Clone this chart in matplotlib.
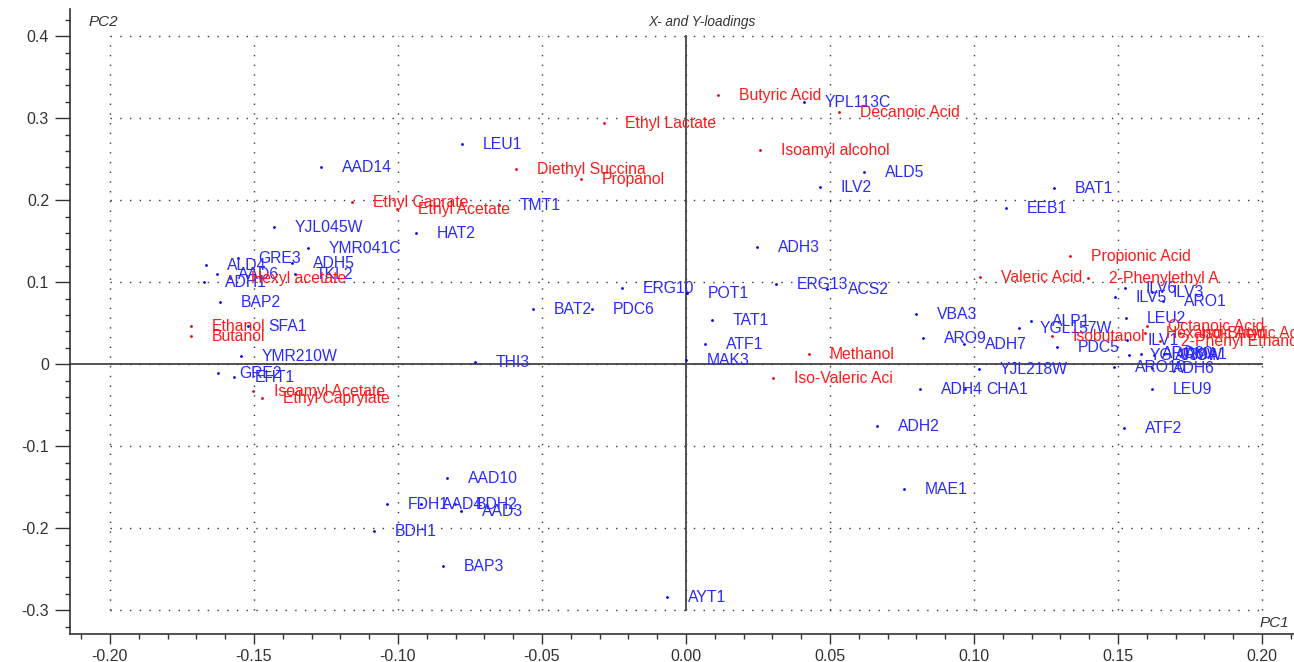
import matplotlib.pyplot as plt
import numpy as np

plt.rcParams['font.family'] = ['Liberation Sans', 'DejaVu Sans']

# X-loadings (genes, blue)
genes = ['LEU1', 'AAD14', 'YPL113C', 'ALD5', 'ILV2', 'BAT1', 'EEB1', 'TMT1', 'HAT2',
         'YJL045W', 'YMR041C', 'ADH3', 'ERG10', 'PDC6', 'BAT2', 'POT1', 'ERG13', 'ACS2',
         'TAT1', 'ATF1', 'MAK3', 'THI3', 'VBA3', 'ARO9', 'ADH7', 'YGL157W', 'ALP1',
         'YJL218W', 'ADH4', 'CHA1', 'PDC5', 'ILV6', 'ILV5', 'ILV3', 'ARO1', 'LEU2',
         'LEU9', 'ARO10', 'ADH6', 'YGL039W', 'ILV1', 'ARO80', 'ARO4', 'AMA1', 'ATF2',
         'ADH2', 'MAE1', 'AYT1', 'AAD10', 'FDH1', 'AAD4', 'BDH2', 'AAD3', 'BDH1', 'BAP3',
         'GRE3', 'ALD4', 'ADH5', 'TKL2', 'AAD6', 'ADH1', 'BAP2', 'SFA1', 'YMR210W',
         'GRE2', 'EHT1']
gene_pc1 = [-0.0778, -0.1267, 0.0410, 0.0618, 0.0465, 0.1278, 0.1111, -0.0649, -0.0938,
            -0.1431, -0.1313, 0.0247, -0.0222, -0.0326, -0.0531, 0.0003, 0.0313, 0.0490,
            0.0090, 0.0066, 0.0000, -0.0733, 0.0799, 0.0823, 0.0965, 0.1156, 0.1198,
            0.1017, 0.0813, 0.0969, 0.1288, 0.1524, 0.1490, 0.1618, 0.1656, 0.1528,
            0.1618, 0.1486, 0.1618, 0.1538, 0.1531, 0.1580, 0.1625, 0.1660, 0.1521,
            0.0663, 0.0757, -0.0066, -0.0830, -0.1038, -0.0920, -0.0802, -0.0781, -0.1083, -0.0844,
            -0.1556, -0.1667, -0.1368, -0.1358, -0.1628, -0.1674, -0.1618, -0.1521, -0.1545,
            -0.1625, -0.1569]
gene_pc2 = [0.2683, 0.2402, 0.3195, 0.2341, 0.2159, 0.2146, 0.1902, 0.1939, 0.1598,
            0.1671, 0.1415, 0.1427, 0.0927, 0.0671, 0.0671, 0.0866, 0.0976, 0.0915,
            0.0537, 0.0244, 0.0049, 0.0024, 0.0610, 0.0317, 0.0244, 0.0439, 0.0524,
            -0.0061, -0.0305, -0.0305, 0.0207, 0.0927, 0.0817, 0.0878, 0.0768, 0.0561,
            -0.0305, -0.0037, -0.0049, 0.0110, 0.0290, 0.0130, 0.0110, 0.0120, -0.0780,
            -0.0756, -0.1524, -0.2841, -0.1390, -0.1707, -0.1707, -0.1707, -0.1793, -0.2037, -0.2463,
            0.1293, 0.1207, 0.1232, 0.1098, 0.1098, 0.1000, 0.0756, 0.0463, 0.0098,
            -0.0110, -0.0159]

# Y-loadings (aroma compounds, red)
compounds = ['Butyric Acid', 'Ethyl Lactate', 'Decanoic Acid', 'Isoamyl alcohol',
             'Diethyl Succina', 'Propanol', 'Ethyl Caprate', 'Ethyl Acetate', 'Hexyl acetate',
             'Ethanol', 'Butanol', 'Isoamyl Acetate', 'Ethyl Caprylate', 'Methanol',
             'Iso-Valeric Aci', 'Propionic Acid', 'Valeric Acid', '2-Phenylethyl A',
             'Octanoic Acid', 'Isobutanol', 'Hexanoic Acid', 'Iso-Butyric Aci', '2-Phenyl Ethano']
comp_pc1 = [0.0111, -0.0285, 0.0531, 0.0257, -0.0590, -0.0365, -0.1160, -0.1003, -0.1583,
            -0.1719, -0.1719, -0.1503, -0.1472, 0.0427, 0.0302, 0.1333, 0.1021, 0.1396,
            0.1601, 0.1271, 0.1594, 0.1715, 0.1646]
comp_pc2 = [0.3280, 0.2939, 0.3073, 0.2610, 0.2378, 0.2256, 0.1976, 0.1890, 0.1049,
            0.0463, 0.0341, -0.0329, -0.0415, 0.0122, -0.0171, 0.1317, 0.1061, 0.1049,
            0.0463, 0.0341, 0.0378, 0.0378, 0.0280]

x_ticks = [-0.20, -0.15, -0.10, -0.05, 0, 0.05, 0.10, 0.15, 0.20]
y_ticks = [-0.3, -0.2, -0.1, 0, 0.1, 0.2, 0.3, 0.4]

blue = '#2a2aff'
red = '#ff1a1a'

fig = plt.figure(figsize=(12.94, 6.62), dpi=100)
ax = fig.add_axes([0.054, 0.042, 0.946, 0.944])
ax.set_xlim(-0.2139, 0.2111)
ax.set_ylim(-0.3293, 0.4329)

# dotted grid only inside the tick range
for xt in x_ticks:
    ax.plot([xt, xt], [y_ticks[0], y_ticks[-1]], color='#333333', lw=1.0,
            linestyle=(0, (1, 6)), zorder=1)
for yt in y_ticks:
    ax.plot([x_ticks[0], x_ticks[-1]], [yt, yt], color='#333333', lw=1.0,
            linestyle=(0, (1, 6)), zorder=1)
ax.plot([0, 0], [y_ticks[0], y_ticks[-1]], color='#444444', lw=1.3, zorder=2)
ax.plot([-0.2139, x_ticks[-1]], [0, 0], color='#444444', lw=1.3, zorder=2)

ax.scatter(gene_pc1, gene_pc2, s=4, color='#0000ee', zorder=3, linewidths=0)
ax.scatter(comp_pc1, comp_pc2, s=4, color='#ee0000', zorder=3, linewidths=0)
for name, x, y in zip(genes, gene_pc1, gene_pc2):
    ax.annotate(name, (x, y), xytext=(15, 0), textcoords='offset points',
                va='center', ha='left', color=blue, fontsize=11.3, zorder=4)
for name, x, y in zip(compounds, comp_pc1, comp_pc2):
    ax.annotate(name, (x, y), xytext=(15, 0), textcoords='offset points',
                va='center', ha='left', color=red, fontsize=11.3, zorder=4)

ax.set_xticks(x_ticks)
ax.set_xticklabels(['%.2f' % v for v in x_ticks])
ax.set_yticks(y_ticks)
ax.set_yticklabels(['0' if v == 0 else '%.1f' % v for v in y_ticks])
ax.set_xticks(np.arange(-0.21, 0.211, 0.01), minor=True)
ax.set_yticks(np.arange(-0.32, 0.43, 0.02), minor=True)
ax.tick_params(axis='y', which='major', length=11, width=1, color='#333333',
               labelsize=11.5, labelcolor='#333333', pad=4)
ax.tick_params(axis='x', which='major', length=7, width=1, color='#333333',
               labelsize=11.5, labelcolor='#333333', pad=3.5)
ax.tick_params(which='minor', length=3.5, width=1, color='#333333')
for s in ['top', 'right']:
    ax.spines[s].set_visible(False)
for s in ['left', 'bottom']:
    ax.spines[s].set_color('#333333')
    ax.spines[s].set_linewidth(1.2)

ax.text(0.0056, 0.417, 'X- and Y-loadings', ha='center', va='center',
        style='italic', fontsize=9.8, color='#333333')
ax.text(-0.2075, 0.417, 'PC2', ha='left', va='center', style='italic',
        fontsize=11, color='#333333')
ax.text(0.2095, -0.316, 'PC1', ha='right', va='center', style='italic',
        fontsize=11, color='#333333')

fig.savefig('out.png', dpi=100)
